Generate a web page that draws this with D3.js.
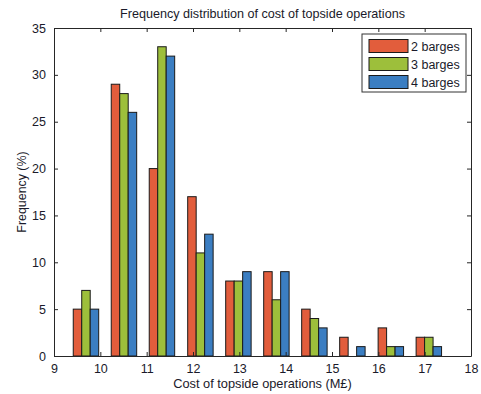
<!DOCTYPE html>
<html>

<head>
    <script src="https://d3js.org/d3.v7.min.js"></script>
    <style>
        body { margin: 0; background: white; }
        text { font-family: "Liberation Sans", Arial, sans-serif; fill: #1a1a2a; }
    </style>
</head>

<body>
    <div id="chart"></div>
    <script>
        // bin centres (M£) and frequencies (%)
        var binCenters = [9.69, 10.51, 11.33, 12.16, 12.98, 13.80, 14.62, 15.44, 16.27, 17.09];
        var barges2 = [5, 29, 20, 17, 8, 9, 5, 2, 3, 2];
        var barges3 = [7, 28, 33, 11, 8, 6, 4, 0, 1, 2];
        var barges4 = [5, 26, 32, 13, 9, 9, 3, 1, 1, 1];
        var seriesNames = ["2 barges", "3 barges", "4 barges"];
        var seriesColors = ["#e25d3c", "#9dbf3b", "#3b7ec2"];
        var xTicks = [9, 10, 11, 12, 13, 14, 15, 16, 17, 18];
        var yTicks = [0, 5, 10, 15, 20, 25, 30, 35];

        var allSeries = [barges2, barges3, barges4];

        var W = 481, H = 394;
        var margin = { top: 28, right: 10, bottom: 38, left: 54 },
            width = 471 - margin.left,
            height = 356 - margin.top;

        var svg = d3.select("#chart").append("svg")
            .attr("width", W).attr("height", H);

        var g = svg.append("g")
            .attr("transform", "translate(" + margin.left + "," + margin.top + ")");

        var x = d3.scaleLinear().domain([9, 18]).range([0, width]);
        var y = d3.scaleLinear().domain([0, 35]).range([height, 0]);

        var barW = 0.183; // one bar, in x units

        // bars
        allSeries.forEach(function (vals, s) {
            g.selectAll(".bar" + s)
                .data(vals.map((v, i) => ({ v: v, c: binCenters[i] })))
                .enter().append("rect")
                .attr("x", d => x(d.c + (s - 1.5) * barW))
                .attr("y", d => y(d.v))
                .attr("width", x(9 + barW) - x(9))
                .attr("height", d => y(0) - y(d.v))
                .attr("fill", seriesColors[s])
                .attr("stroke", "#1a1a1a")
                .attr("stroke-width", 1);
        });

        // axes (ticks inward, box)
        var axB = g.append("g").attr("transform", "translate(0," + height + ")")
            .call(d3.axisBottom(x).tickValues(xTicks).tickSizeInner(-4).tickSizeOuter(0).tickPadding(8));
        var axT = g.append("g")
            .call(d3.axisTop(x).tickValues(xTicks).tickSizeInner(-4).tickSizeOuter(0).tickFormat(""));
        var axL = g.append("g")
            .call(d3.axisLeft(y).tickValues(yTicks).tickSizeInner(-4).tickSizeOuter(0).tickPadding(8));
        var axR = g.append("g").attr("transform", "translate(" + width + ",0)")
            .call(d3.axisRight(y).tickValues(yTicks).tickSizeInner(-4).tickSizeOuter(0).tickFormat(""));
        [axB, axT, axL, axR].forEach(function (a) {
            a.selectAll("path, line").attr("stroke", "#262626");
            a.selectAll("text").style("font-size", "12.5px").attr("fill", "#1a1a3a");
        });

        // title and labels
        svg.append("text").attr("x", margin.left + width / 2).attr("y", 18)
            .attr("text-anchor", "middle").style("font-size", "12.6px")
            .text("Frequency distribution of cost of topside operations");
        svg.append("text").attr("x", margin.left + width / 2).attr("y", 388)
            .attr("text-anchor", "middle").style("font-size", "12.8px")
            .text("Cost of topside operations (M£)");
        svg.append("text")
            .attr("transform", "translate(26," + (margin.top + height / 2) + ") rotate(-90)")
            .attr("text-anchor", "middle").style("font-size", "12.4px")
            .text("Frequency (%)");

        // legend
        var lg = svg.append("g").attr("transform", "translate(362,34)");
        lg.append("rect").attr("width", 104).attr("height", 58)
            .attr("fill", "white").attr("stroke", "#333").attr("stroke-width", 1);
        seriesNames.forEach(function (name, i) {
            lg.append("rect").attr("x", 7).attr("y", 5.5 + i * 18)
                .attr("width", 39).attr("height", 13)
                .attr("fill", seriesColors[i]).attr("stroke", "#1a1a1a");
            lg.append("text").attr("x", 49).attr("y", 16.5 + i * 18)
                .style("font-size", "12.5px").text(name);
        });
    </script>
</body>

</html>
